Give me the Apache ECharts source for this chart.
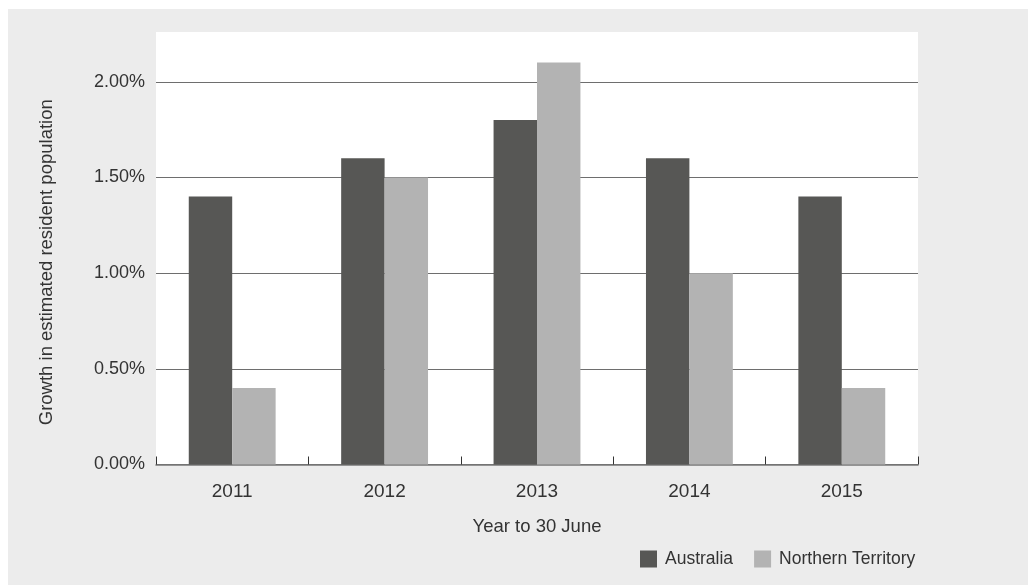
<!DOCTYPE html>
<html>
<head>
<meta charset="utf-8">
<script src="https://cdn.jsdelivr.net/npm/echarts@6/dist/echarts.min.js"></script>
<style>
  html, body { margin: 0; padding: 0; background: #ffffff; }
  #chart { position: absolute; left: 8px; top: 9px; width: 1020px; height: 576px; }
</style>
</head>
<body>
<div id="chart"></div>
<script>
const categories = ['2011', '2012', '2013', '2014', '2015'];
const australia = [1.4, 1.6, 1.8, 1.6, 1.4];
const northernTerritory = [0.4, 1.5, 2.1, 1.0, 0.4];
const seriesNames = ['Australia', 'Northern Territory'];
const yTickValues = [0, 0.5, 1.0, 1.5, 2.0];
const xAxisTitle = 'Year to 30 June';
const yAxisTitle = 'Growth in estimated resident population';

const FONT = "'Liberation Sans', Arial, Helvetica, sans-serif";
const TEXT = '#333333';

const chart = echarts.init(document.getElementById('chart'));
chart.setOption({
  backgroundColor: '#ececec',
  animation: false,
  textStyle: { fontFamily: FONT, color: TEXT },
  grid: {
    left: 148, right: 110, top: 23, bottom: 120.5,
    show: true, backgroundColor: '#ffffff', borderWidth: 0,
    containLabel: false
  },
  legend: {
    left: 632, top: 541, padding: 0,
    itemWidth: 17, itemHeight: 17, itemGap: 21,
    icon: 'rect',
    textStyle: { fontSize: 17.5, color: TEXT, fontFamily: FONT, padding: [0, 0, 0, 3] },
    data: seriesNames
  },
  xAxis: {
    type: 'category',
    data: categories,
    name: xAxisTitle,
    nameLocation: 'middle',
    nameGap: 53,
    nameTextStyle: { fontSize: 18.5, color: TEXT, fontFamily: FONT },
    axisLine: { show: true, lineStyle: { color: '#777777', width: 1.5 } },
    axisTick: { show: true, inside: true, length: 8, alignWithLabel: false, lineStyle: { color: '#333333', width: 1 } },
    axisLabel: { fontSize: 19, color: TEXT, margin: 18, fontFamily: FONT },
    splitLine: { show: false }
  },
  yAxis: {
    type: 'value',
    min: 0, max: 2.26, interval: 0.5,
    name: yAxisTitle,
    nameLocation: 'middle',
    nameGap: 100,
    nameRotate: 90,
    nameTextStyle: { fontSize: 18.5, color: TEXT, fontFamily: FONT, padding: [0, 28, 0, 0] },
    axisLine: { show: false },
    axisTick: { show: false },
    axisLabel: {
      fontSize: 18, color: TEXT, margin: 11, fontFamily: FONT,
      showMaxLabel: false,
      formatter: function (v) {
        const hit = yTickValues.some(t => Math.abs(t - v) < 1e-6);
        return hit ? v.toFixed(2) + '%' : '';
      }
    },
    splitLine: { show: true, showMaxLine: false, lineStyle: { color: '#6e6e6e', width: 1.2 } }
  },
  series: [
    {
      name: seriesNames[0], type: 'bar', data: australia,
      barWidth: '28.5%', barGap: '0%',
      itemStyle: { color: '#575755' }
    },
    {
      name: seriesNames[1], type: 'bar', data: northernTerritory,
      barWidth: '28.5%', barGap: '0%',
      itemStyle: { color: '#b3b3b3' }
    }
  ]
});
</script>
</body>
</html>
